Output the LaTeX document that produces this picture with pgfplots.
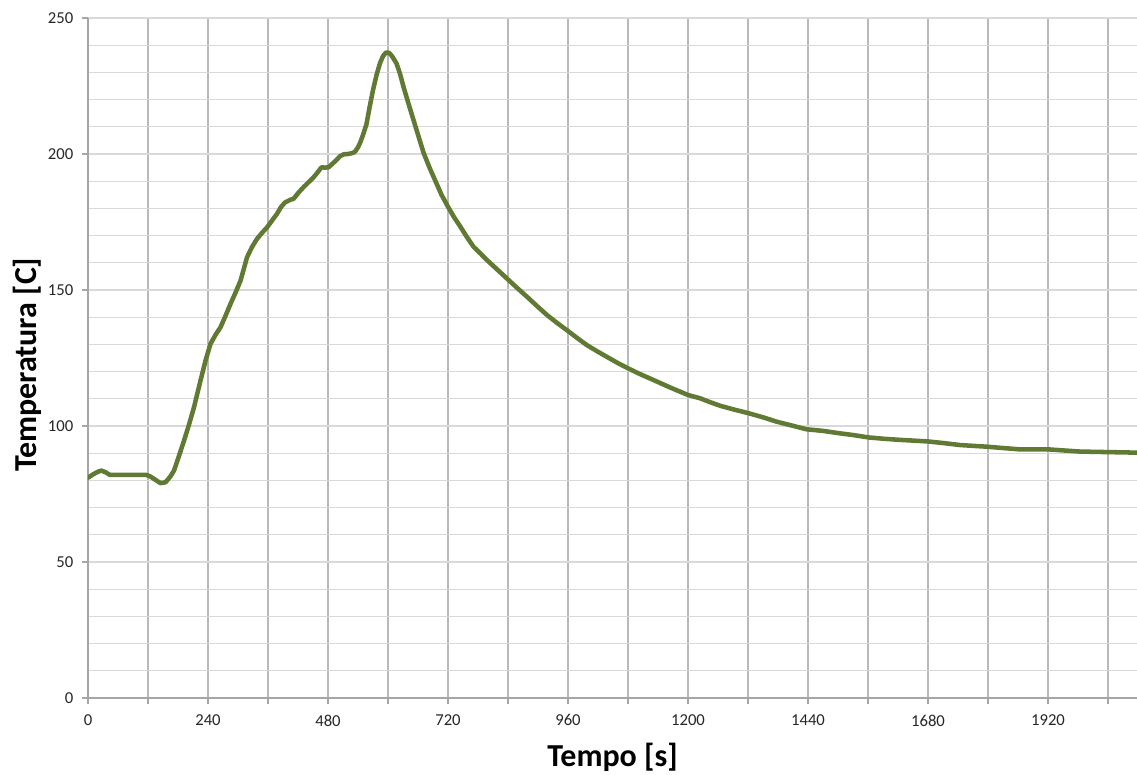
\documentclass[border=0pt]{standalone}
\usepackage{pgfplots}
\pgfplotsset{compat=1.18}
\usepackage{fontspec}
\setmainfont{Carlito}
\definecolor{curve}{RGB}{96,122,52}
\definecolor{vgrid}{RGB}{185,185,185}
\definecolor{hgrid}{RGB}{217,217,217}
\definecolor{axline}{RGB}{166,166,166}
\begin{document}
\begin{tikzpicture}
\begin{axis}[
  scale only axis,
  width=786.75pt, height=510pt,
  xmin=0, xmax=2098, ymin=0, ymax=250,
  axis lines*=left,
  axis line style={draw=axline, line width=0.9pt},
  xtick={0,120,...,2040},
  xticklabels={0,,240,,480,,720,,960,,1200,,1440,,1680,,1920,},
  ytick={0,50,...,250},
  minor ytick={10,20,...,240},
  minor tick length=0pt,
  major tick length=4.5pt,
  tick align=outside,
  tick style={draw=axline, line width=0.9pt},
  xmajorgrids, ymajorgrids, yminorgrids,
  x grid style={draw=vgrid, line width=0.9pt},
  y grid style={draw=hgrid, line width=0.9pt},
  minor grid style={draw=hgrid, line width=0.9pt},
  major grid style={},
  ticklabel style={font=\fontsize{12.5}{14}\selectfont, text=black!85},
  xticklabel style={yshift=-4.5pt},
  yticklabel style={xshift=-3pt},
  /pgf/number format/assume math mode=true,
  scaled ticks=false,
  xlabel={Tempo [s]},
  ylabel={Temperatura [C]},
  xlabel style={font=\fontsize{24}{28}\selectfont\bfseries, at={(axis description cs:0.5,-0.087)}, anchor=center},
  ylabel style={font=\fontsize{24}{28}\selectfont\bfseries, at={(axis description cs:-0.0575,0.49)}, anchor=center},
  clip=true,
]
\addplot[color=curve, line width=3.4pt, line join=round, line cap=round] coordinates {
(0,81) (10,82.2) (20,83.2) (27,83.6) (35,83) (44,82) (60,82) (80,82) (100,82) (117,82)
(125,81.4) (135,80.2) (145,79) (155,79.3) (165,81.5) (172,83.6) (182,89) (192,94.6)
(202,100.5) (212,106.9) (225,116.7) (235,124) (245,130.2) (255,133.5) (265,136.3)
(275,140.5) (285,144.9) (295,149) (305,153.4) (312,158) (318,162) (328,165.8) (338,168.8)
(348,171) (358,173) (368,175.5) (378,178) (386,180.5) (394,182.2) (405,183.2) (411,183.5)
(421,185.8) (431,187.8) (441,189.6) (451,191.4) (459,193.2) (467,195.1) (474,195) (481,195.1)
(490,196.6) (497,197.8) (504,199.2) (512,199.9) (520,200) (528,200.3) (534,200.8) (540,202.5)
(544,204) (550,207) (557,211) (563,217) (570,223.5) (577,229) (584,233.4) (590,236) (596,237.3)
(602,237.2) (608,236) (617,233.3) (624,229.5) (631,224.7) (641,218.5) (651,212.5) (661,206.5)
(671,200.5) (683,195) (695,190) (707,185) (720,180.6) (732,176.8) (745,173.2) (758,169.4)
(771,165.9) (785,163.4) (798,161) (818,157.6) (838,154.2) (858,150.8) (878,147.5) (898,144.1)
(918,140.8) (938,137.9) (958,135.2) (978,132.4) (998,129.7) (1018,127.5) (1038,125.4)
(1059,123.2) (1080,121.2) (1105,119) (1131,116.9) (1165,114.1) (1200,111.4) (1224,110.2)
(1245,108.7) (1265,107.4) (1293,106) (1321,104.7) (1350,103.2) (1377,101.6) (1407,100.2)
(1437,98.8) (1470,98.2) (1504,97.3) (1533,96.6) (1561,95.8) (1592,95.3) (1624,94.9)
(1653,94.6) (1681,94.3) (1712,93.7) (1744,93) (1770,92.7) (1797,92.4) (1830,91.9)
(1864,91.4) (1892,91.4) (1921,91.4) (1952,91) (1984,90.6) (2012,90.5) (2041,90.4) (2070,90.3) (2098,90.2)
};
\end{axis}
\pgfresetboundingbox
\path[use as bounding box] ([xshift=-66pt,yshift=-57pt]current axis.south west) rectangle ([yshift=13.5pt]current axis.north east);
\end{tikzpicture}
\end{document}
